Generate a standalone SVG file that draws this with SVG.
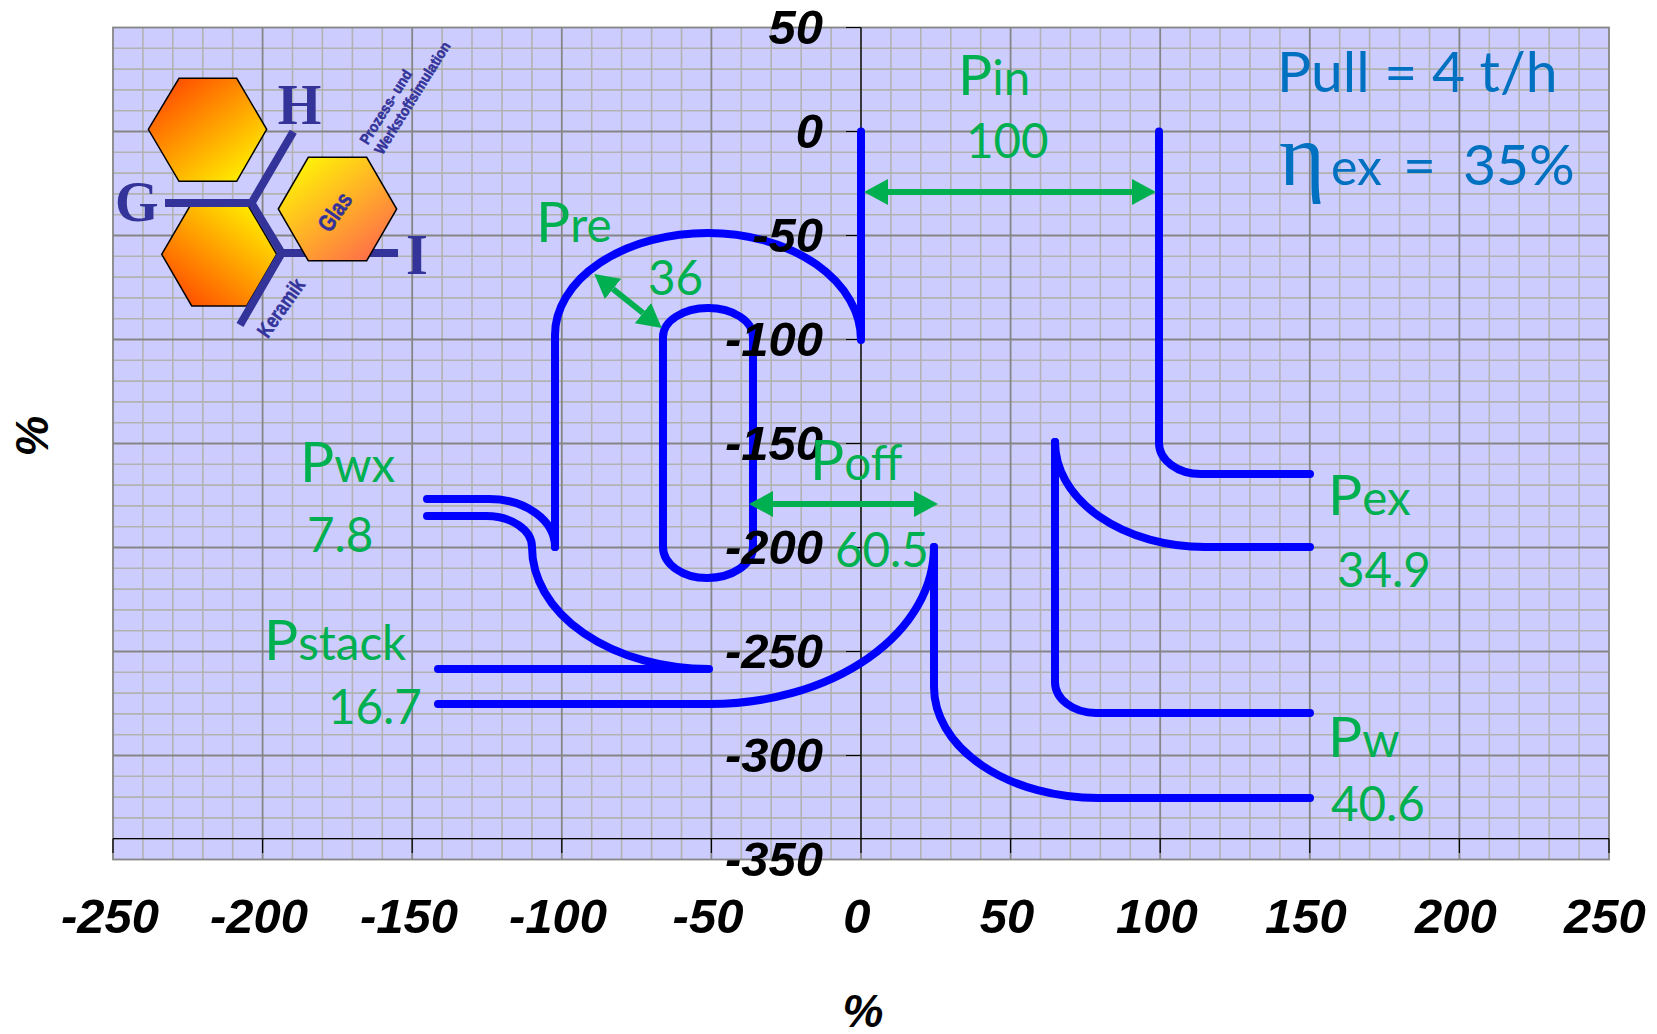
<svg xmlns="http://www.w3.org/2000/svg" width="1657" height="1034" viewBox="0 0 1657 1034">
<style>
.minor{stroke:#b2b2b2;stroke-width:1.6;fill:none}
.major{stroke:#868686;stroke-width:1.8;fill:none}
.axis{stroke:#000;stroke-width:1.2;fill:none}
.flow{stroke:#0000ff;stroke-width:8;fill:none;stroke-linecap:round;stroke-linejoin:round}
.dim{stroke:#00b050;stroke-width:6;fill:none;marker-start:url(#head);marker-end:url(#head)}
.tick{font:italic bold 49px "Liberation Sans",Arial,sans-serif;fill:#000}
.tx{text-anchor:middle}
.ty{text-anchor:end}
.g{font:47.5px Lato,"Noto Sans",sans-serif;fill:#00b050}
.p{font-size:57px}
.b{font:57px Lato,"Noto Sans",sans-serif;fill:#0070c0}
.logo{fill:#333399}
.big{font:bold 56px "Liberation Serif",serif}
.small{font:bold 17px "Liberation Sans",sans-serif;text-anchor:middle;stroke:#333399;stroke-width:.5}
.logoline{stroke:#333399;stroke-width:8;fill:none;stroke-linejoin:miter}
.hex{stroke:#000;stroke-width:1.5}
</style>
<defs>
<marker id="head" markerUnits="userSpaceOnUse" markerWidth="25" markerHeight="26" refX="0" refY="13" orient="auto-start-reverse"><path d="M0 0L24 13L0 26Z" fill="#00b050"/></marker>
<linearGradient id="h1" x1="0.08" y1="0" x2="0.95" y2="1"><stop offset="0" stop-color="#ff4000"/><stop offset="1" stop-color="#ffff00"/></linearGradient>
<linearGradient id="h2" x1="0.08" y1="1" x2="0.95" y2="0"><stop offset="0" stop-color="#ff4000"/><stop offset="1" stop-color="#ffff00"/></linearGradient>
<linearGradient id="h3" x1="0.08" y1="0" x2="0.95" y2="1"><stop offset="0" stop-color="#ffff00"/><stop offset="1" stop-color="#ff6050"/></linearGradient>
</defs>
<g id="plot-area">
<rect x="113" y="27.5" width="1496" height="832" fill="#ccccff"/>
<path class="minor" d="M142.9 27.5V859.5M172.8 27.5V859.5M202.8 27.5V859.5M232.7 27.5V859.5M292.5 27.5V859.5M322.4 27.5V859.5M352.4 27.5V859.5M382.3 27.5V859.5M442.1 27.5V859.5M472 27.5V859.5M502 27.5V859.5M531.9 27.5V859.5M591.7 27.5V859.5M621.6 27.5V859.5M651.6 27.5V859.5M681.5 27.5V859.5M741.3 27.5V859.5M771.2 27.5V859.5M801.2 27.5V859.5M831.1 27.5V859.5M890.9 27.5V859.5M920.8 27.5V859.5M950.8 27.5V859.5M980.7 27.5V859.5M1040.5 27.5V859.5M1070.4 27.5V859.5M1100.4 27.5V859.5M1130.3 27.5V859.5M1190.1 27.5V859.5M1220 27.5V859.5M1250 27.5V859.5M1279.9 27.5V859.5M1339.7 27.5V859.5M1369.6 27.5V859.5M1399.6 27.5V859.5M1429.5 27.5V859.5M1489.3 27.5V859.5M1519.2 27.5V859.5M1549.2 27.5V859.5M1579.1 27.5V859.5"/>
<path class="minor" d="M113 48.3H1609M113 69.1H1609M113 89.9H1609M113 110.7H1609M113 152.3H1609M113 173.1H1609M113 193.9H1609M113 214.7H1609M113 256.3H1609M113 277.1H1609M113 297.9H1609M113 318.7H1609M113 360.3H1609M113 381.1H1609M113 401.9H1609M113 422.7H1609M113 464.3H1609M113 485.1H1609M113 505.9H1609M113 526.7H1609M113 568.3H1609M113 589.1H1609M113 609.9H1609M113 630.7H1609M113 672.3H1609M113 693.1H1609M113 713.9H1609M113 734.7H1609M113 776.3H1609M113 797.1H1609M113 817.9H1609M113 838.7H1609"/>
<path class="major" d="M262.6 27.5V859.5M412.2 27.5V859.5M561.8 27.5V859.5M711.4 27.5V859.5M861 27.5V859.5M1010.6 27.5V859.5M1160.2 27.5V859.5M1309.8 27.5V859.5M1459.4 27.5V859.5M113 131.5H1609M113 235.5H1609M113 339.5H1609M113 443.5H1609M113 547.5H1609M113 651.5H1609M113 755.5H1609"/>
<rect class="major" x="113" y="27.5" width="1496" height="832"/>
<path class="axis" d="M861 27.5V838.7M113 838.7H1609"/>
<path class="axis" d="M846 27.5H861M846 131.5H861M846 235.5H861M846 339.5H861M846 443.5H861M846 547.5H861M846 651.5H861M846 755.5H861M113 838.7V853M262.6 838.7V853M412.2 838.7V853M561.8 838.7V853M711.4 838.7V853M861 838.7V853M1010.6 838.7V853M1160.2 838.7V853M1309.8 838.7V853M1459.4 838.7V853M1609 838.7V853"/>
</g>
<g id="connectors">
<path class="flow" d="M861 131.5V340A153 107 0 0 0 708 233A153 102 0 0 0 555 335V547"/>
<path class="flow" d="M1159 131.5V443A42 31 0 0 0 1201 474H1310"/>
<path class="flow" d="M1055 442A150 105 0 0 0 1205 547H1310"/>
<path class="flow" d="M1055 442V682A41 31 0 0 0 1096 713H1310"/>
<path class="flow" d="M934 547V687A164 111 0 0 0 1098 798H1310"/>
<path class="flow" d="M438 704H710A224 157 0 0 0 934 547"/>
<path class="flow" d="M438 669H709A177 122 0 0 1 532 547A46 31 0 0 0 486 516H427"/>
<path class="flow" d="M427 499H489A66 48 0 0 1 555 547"/>
<path class="flow" d="M663 547V337A45 29 0 0 1 708 308A45 29 0 0 1 753 337V547A46 31 0 0 1 707 578A44 31 0 0 1 663 547Z"/>
<path class="dim" d="M888 192H1132"/>
<path class="dim" d="M773 504H914"/>
<path class="dim" d="M613 289L643 313"/>
</g>
<g id="logo">
<polygon id="hex-bottom" class="hex" fill="url(#h2)" points="161.7,254.3 191.7,203 246.7,203 276.7,254.3 246.7,306 191.7,306"/>
<path class="logoline" d="M165 203H251.5L293.3 131.7M251.5 203L281.7 253H398M281.7 253L240 325"/>
<polygon id="hex-top" class="hex" fill="url(#h1)" points="148.3,129.3 179,78.3 236.7,78.3 266.7,129.3 236.7,181.3 179,181.3"/>
<polygon id="hex-glas" class="hex" fill="url(#h3)" points="278.3,209 308.3,157.3 366.7,157.3 396.7,209 366.7,260.7 308.3,260.7"/>
<text class="logo big" x="277.7" y="124.3">H</text>
<text class="logo big" x="115" y="221">G</text>
<text class="logo big" x="406" y="274">I</text>
<text class="logo small" style="font-size:24px" transform="translate(335 212) rotate(-55) scale(.8 1)" y="8">Glas</text>
<text class="logo small" style="font-size:21px" transform="translate(281 308) rotate(-55) scale(.8 1)" y="7">Keramik</text>
<text class="logo small" style="font-size:15px" transform="translate(386 107) rotate(-58) scale(.9 1)" y="5">Prozess- und</text>
<text class="logo small" style="font-size:15px" transform="translate(412.5 98) rotate(-58) scale(.9 1)" y="5">Werkstoffsimulation</text>
</g>
<g id="axis-labels">
<text class="tick ty" x="823" y="43.5">50</text>
<text class="tick ty" x="823" y="147.5">0</text>
<text class="tick ty" x="823" y="251.5">-50</text>
<text class="tick ty" x="823" y="355.5">-100</text>
<text class="tick ty" x="823" y="459.5">-150</text>
<text class="tick ty" x="823" y="563.5">-200</text>
<text class="tick ty" x="823" y="667.5">-250</text>
<text class="tick ty" x="823" y="771.5">-300</text>
<text class="tick ty" x="823" y="875.5">-350</text>
<text class="tick tx" x="110" y="933">-250</text>
<text class="tick tx" x="259" y="933">-200</text>
<text class="tick tx" x="409" y="933">-150</text>
<text class="tick tx" x="558" y="933">-100</text>
<text class="tick tx" x="708" y="933">-50</text>
<text class="tick tx" x="857" y="933">0</text>
<text class="tick tx" x="1007" y="933">50</text>
<text class="tick tx" x="1157" y="933">100</text>
<text class="tick tx" x="1306" y="933">150</text>
<text class="tick tx" x="1456" y="933">200</text>
<text class="tick tx" x="1605" y="933">250</text>
<text class="tick tx" x="863" y="1027" style="font-size:46px">%</text>
<text class="tick tx" transform="translate(48 436) rotate(-90)" style="font-size:46px">%</text>
</g>
<g id="label-pin"><text class="g" x="958" y="95"><tspan class="p">P</tspan>in</text><text class="g" x="966" y="158">100</text></g>
<g id="label-pre"><text class="g" x="536" y="242"><tspan class="p">P</tspan>re</text><text class="g" x="648" y="295">36</text></g>
<g id="label-pwx"><text class="g" x="300" y="482"><tspan class="p">P</tspan>wx</text><text class="g" x="307" y="552">7.8</text></g>
<g id="label-pstack"><text class="g" x="264" y="660"><tspan class="p">P</tspan>stack</text><text class="g" x="328" y="724">16.7</text></g>
<g id="label-poff"><text class="g" x="810" y="480"><tspan class="p">P</tspan>off</text><text class="g" x="835" y="567">60.5</text></g>
<g id="label-pex"><text class="g" x="1328" y="515"><tspan class="p">P</tspan>ex</text><text class="g" x="1337" y="587">34.9</text></g>
<g id="label-pw"><text class="g" x="1328" y="757"><tspan class="p">P</tspan>w</text><text class="g" x="1331" y="821">40.6</text></g>
<g id="label-pull"><text class="b" x="1277" y="92">Pull = 4 t/h</text></g>
<g id="label-eta"><text class="b" x="1279" y="185" style="font-family:'Liberation Serif',serif;font-size:88px">η</text><text class="b" x="1331" y="185" style="font-size:50px">ex</text><text class="b" x="1403" y="185">=</text><text class="b" x="1463" y="185">35%</text></g>
</svg>
